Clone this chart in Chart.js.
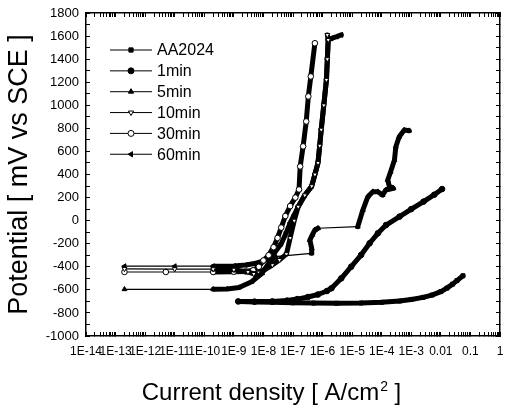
<!DOCTYPE html>
<html>
<head>
<meta charset="utf-8">
<script src="https://cdn.jsdelivr.net/npm/chart.js@4"></script>
<style>
  body { margin: 0; background: #fff; }
  canvas { display: block; }
</style>
</head>
<body>
<canvas id="chart" width="505" height="411"></canvas>
<script>
const FONT = '"Liberation Sans", Arial, sans-serif';

const xTickValues = [1e-14, 1e-13, 1e-12, 1e-11, 1e-10, 1e-9, 1e-8, 1e-7, 1e-6, 1e-5, 1e-4, 1e-3, 1e-2, 1e-1, 1];
const xTickLabels = ['1E-14', '1E-13', '1E-12', '1E-11', '1E-10', '1E-9', '1E-8', '1E-7', '1E-6', '1E-5', '1E-4', '1E-3', '0.01', '0.1', '1'];
const yTickValues = [-1000, -800, -600, -400, -200, 0, 200, 400, 600, 800, 1000, 1200, 1400, 1600, 1800];

// current density [A/cm2] / potential [mV vs SCE]
const aa2024Current = [1.6e-9, 5e-9, 2e-8, 1e-7, 5e-7, 3e-6, 2e-5, 1e-4, 4e-4, 1e-3, 2.5e-3, 5e-3, 1e-2, 1.6e-2, 2.5e-2, 3.5e-2, 5.6e-2];
const aa2024Potential = [-702, -705, -708, -712, -715, -716, -714, -708, -697, -683, -665, -645, -615, -585, -550, -520, -478];

const min1Current = [1.4e-9, 5e-9, 2e-8, 6.3e-8, 1.4e-7, 3.2e-7, 7e-7, 1.4e-6, 2e-6, 4.3e-6, 9.3e-6, 2e-5, 3.9e-5, 7.4e-5, 1.4e-4, 4e-4, 1e-3, 2.6e-3, 6e-3, 1.1e-2];
const min1Potential = [-700, -702, -700, -693, -680, -662, -640, -610, -586, -500, -399, -298, -196, -110, -38, 35, 100, 165, 225, 274];

const min5Current = [2e-13, 2e-10, 6e-10, 1.5e-9, 4e-9, 9e-9, 1.5e-8, 2.5e-8, 4.2e-7, 4.3e-7, 3.7e-7, 4.5e-7, 5.5e-7, 7e-7, 1.55e-5, 2.3e-5, 3.4e-5, 5e-5, 7.4e-5, 1.07e-4, 1.38e-4, 2.5e-4, 1.8e-4, 1.6e-4, 2e-4, 2.7e-4, 3e-4, 3.9e-4, 5.8e-4, 8.5e-4];
const min5Potential = [-595, -595, -592, -580, -530, -456, -370, -312, -283, -240, -168, -124, -81, -66, -52, 92, 208, 251, 251, 222, 266, 280, 300, 352, 424, 526, 641, 727, 786, 780];

const min10Current = [2e-13, 1e-11, 2e-10, 1e-9, 3e-9, 4.7e-9, 7e-9, 1.2e-8, 2e-8, 3.5e-8, 6e-8, 8e-8, 1.1e-7, 1.5e-7, 2.5e-7, 4.3e-7, 5.5e-7, 7e-7, 8e-7, 9e-7, 1.1e-6, 1.35e-6, 1.45e-6, 1.55e-6, 1.45e-6];
const min10Potential = [-418, -420, -420, -425, -445, -462, -450, -420, -385, -340, -290, -150, 0, 121, 220, 299, 400, 501, 650, 789, 1000, 1221, 1400, 1567, 1610];

const min30Current = [2e-13, 5e-12, 2e-10, 1e-9, 2.5e-9, 4.5e-9, 7e-9, 1e-8, 1.5e-8, 2.2e-8, 3e-8, 4e-8, 5.5e-8, 8e-8, 1.2e-7, 1.6e-7, 1.75e-7, 2.2e-7, 2.8e-7, 3.3e-7, 4e-7, 5.5e-7];
const min30Potential = [-445, -445, -445, -443, -440, -430, -400, -345, -300, -230, -150, -60, 40, 126, 200, 270, 470, 644, 860, 1077, 1250, 1538];

const min60Current = [2e-13, 1e-11, 2e-10, 1e-9, 2.5e-9, 5e-9, 1e-8, 1.6e-8, 2.5e-8, 4e-8, 6e-8, 8e-8, 1.1e-7, 1.5e-7, 2.5e-7, 4.3e-7, 5.5e-7, 7e-7, 8e-7, 9e-7, 1.1e-6, 1.35e-6, 1.45e-6, 1.55e-6, 2e-6, 3e-6, 4.3e-6];
const min60Potential = [-395, -395, -395, -393, -385, -372, -350, -320, -270, -200, -100, -20, 50, 121, 220, 299, 400, 501, 650, 789, 1000, 1221, 1400, 1567, 1580, 1595, 1610];

// minor tick positions: 1..9 x each decade, every 100 mV
const xMinor = [];
xTickValues.forEach(t => { for (let m = 1; m < 10; m++) if (m * t <= 1.0001) xMinor.push(m * t); });
const yMinor = [];
for (let v = -1000; v <= 1800; v += 100) yMinor.push(v);

function xLabel(v) {
    const k = xTickValues.findIndex(t => Math.abs(Math.log10(t) - Math.log10(v)) < 1e-6);
    return k >= 0 ? xTickLabels[k] : '';
}

function series(label, current, potential, style, rotation, fill) {
    return {
        label: label,
        data: current.map((c, i) => ({ x: c, y: potential[i] })),
        showLine: true,
        borderColor: '#000',
        borderWidth: 5,
        borderCapStyle: 'round',
        borderJoinStyle: 'round',
        pointStyle: style,
        pointRotation: rotation,
        pointRadius: 2.8,
        pointBorderWidth: 1,
        pointBorderColor: '#000',
        pointBackgroundColor: fill,
        // sparse stretches drawn thin, dense stretches look like the thick scanned band
        segment: { borderWidth: ctx => Math.abs(ctx.p1.x - ctx.p0.x) > 30 ? 1.2 : 5 }
    };
}

const frameAxis = {
    grid: { display: true, drawOnChartArea: false, drawTicks: true, tickLength: -4, color: '#000', tickColor: '#000', lineWidth: 1 },
    border: { display: true, color: '#000', width: 1.5 }
};

const legendPlugin = {
    id: 'legendPlugin',
    beforeDraw(chart) {
        const c = chart.ctx;
        c.save();
        c.fillStyle = '#fff';
        c.fillRect(0, 0, chart.width, chart.height);
        c.restore();
    },
    afterDraw(chart) {
        const c = chart.ctx;
        c.save();
        c.font = '16px ' + FONT;
        c.textBaseline = 'middle';
        c.textAlign = 'left';
        chart.data.datasets.forEach((ds, i) => {
            const ly = 50 + i * 20.85;
            c.fillStyle = '#000';
            c.fillRect(110, ly - 0.5, 42, 1);
            c.strokeStyle = '#000';
            c.lineWidth = 1;
            c.fillStyle = ds.pointBackgroundColor;
            Chart.helpers.drawPoint(c, { pointStyle: ds.pointStyle, rotation: ds.pointRotation, radius: 3, borderWidth: 1 }, 131, ly);
            c.fillStyle = '#000';
            c.fillText(ds.label, 157, ly + 1);
        });

        // x axis title with superscript
        const main = 'Current density [ A/cm', sup = '2', tail = ' ]';
        c.font = '24px ' + FONT;
        const w1 = c.measureText(main).width, w3 = c.measureText(tail).width;
        c.font = '14px ' + FONT;
        const w2 = c.measureText(sup).width;
        const sx = 271 - (w1 + w2 + w3) / 2;
        c.textBaseline = 'alphabetic';
        c.fillStyle = '#000';
        c.font = '24px ' + FONT;
        c.fillText(main, sx, 400);
        c.font = '14px ' + FONT;
        c.fillText(sup, sx + w1 + 1, 391);
        c.font = '24px ' + FONT;
        c.fillText(tail, sx + w1 + w2 + 1, 400);
        c.restore();
    }
};

new Chart(document.getElementById('chart'), {
    type: 'scatter',
    data: {
        datasets: [
            series('AA2024', aa2024Current, aa2024Potential, 'rect', 0, '#000'),
            series('1min', min1Current, min1Potential, 'circle', 0, '#000'),
            series('5min', min5Current, min5Potential, 'triangle', 0, '#000'),
            series('10min', min10Current, min10Potential, 'triangle', 180, '#fff'),
            series('30min', min30Current, min30Potential, 'circle', 0, '#fff'),
            series('60min', min60Current, min60Potential, 'triangle', -90, '#000')
        ]
    },
    options: {
        responsive: false,
        animation: false,
        layout: { padding: { top: 13, right: 1, left: 0, bottom: 0 } },
        plugins: { legend: { display: false }, tooltip: { enabled: false } },
        scales: {
            x: {
                ...frameAxis,
                type: 'logarithmic',
                position: 'bottom',
                min: 1e-14,
                max: 1,
                afterBuildTicks: s => { s.ticks = xMinor.map(v => ({ value: v })); },
                afterFit: s => { s.height = 75; s.paddingLeft = 0; s.paddingRight = 0; },
                ticks: {
                    autoSkip: false, maxRotation: 0, minRotation: 0, padding: 12,
                    color: '#000', font: { size: 12, family: FONT },
                    callback: v => xLabel(v)
                }
            },
            x2: {
                ...frameAxis,
                type: 'logarithmic',
                position: 'top',
                min: 1e-14,
                max: 1,
                afterBuildTicks: s => { s.ticks = xMinor.map(v => ({ value: v })); },
                afterFit: s => { s.height = 0; s.paddingLeft = 0; s.paddingRight = 0; },
                ticks: { display: false, autoSkip: false, maxRotation: 0 }
            },
            y: {
                ...frameAxis,
                position: 'left',
                min: -1000,
                max: 1800,
                afterBuildTicks: s => { s.ticks = yMinor.map(v => ({ value: v })); },
                afterFit: s => { s.width = 86; s.paddingTop = 0; s.paddingBottom = 0; },
                ticks: {
                    autoSkip: false, padding: 11, color: '#000', font: { size: 13, family: FONT },
                    callback: v => yTickValues.includes(v) ? String(v) : ''
                },
                title: {
                    display: true, text: 'Potential [ mV vs SCE ]', color: '#000',
                    font: { size: 27, family: FONT }, padding: { top: 3, bottom: 0 }
                }
            },
            y2: {
                ...frameAxis,
                position: 'right',
                min: -1000,
                max: 1800,
                afterBuildTicks: s => { s.ticks = yMinor.map(v => ({ value: v })); },
                afterFit: s => { s.width = 0; s.paddingTop = 0; s.paddingBottom = 0; },
                ticks: { display: false, autoSkip: false }
            }
        }
    },
    plugins: [legendPlugin]
});
</script>
</body>
</html>
